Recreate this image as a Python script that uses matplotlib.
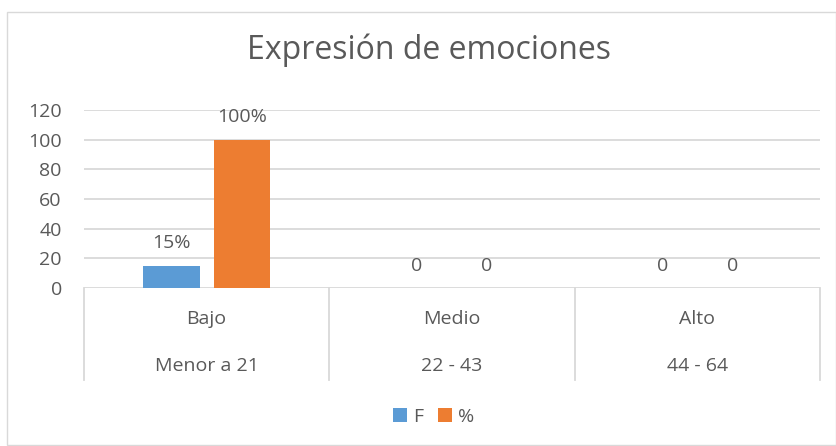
import matplotlib
matplotlib.use("Agg")
import matplotlib.pyplot as plt
from matplotlib.patches import Rectangle
import numpy as np

title = "Expresión de emociones"
levels = ["Bajo", "Medio", "Alto"]
ranges = ["Menor a 21", "22 - 43", "44 - 64"]
f_values = [15, 0, 0]
pct_values = [100, 0, 0]
f_labels = ["15%", "0", "0"]
pct_labels = ["100%", "0", "0"]
yticks = [0, 20, 40, 60, 80, 100, 120]

plt.rcParams['font.family'] = ['Open Sans', 'DejaVu Sans']
txt = '#595959'
grid = '#d9d9d9'
blue = '#5b9bd5'
orange = '#ed7d31'
fs = 14

fig = plt.figure(figsize=(8.37, 4.46), dpi=100)
fig.patches.append(Rectangle((7/837, 1/446), 829/837, 433/446, transform=fig.transFigure,
                             fill=False, edgecolor=grid, linewidth=1))
ax = fig.add_axes([84/837, 1-288/446, (820-84)/837, 178/446])

x = np.arange(len(levels))
w = 0.229
off = 0.143
b1 = ax.bar(x - off, f_values, w, color=blue, label='F', zorder=3)
b2 = ax.bar(x + off, pct_values, w, color=orange, label='%', zorder=3)
for bars, labs in ((b1, f_labels), (b2, pct_labels)):
    for r, lab in zip(bars, labs):
        ax.annotate(lab, (r.get_x() + r.get_width()/2, r.get_height()), xytext=(0, 12.5),
                    textcoords='offset points', ha='center', va='baseline', fontsize=fs, color=txt)

ax.set_xlim(-0.5, len(levels) - 0.5)
ax.set_ylim(0, 120)
ax.set_yticks(yticks)
ax.set_yticklabels([str(t) for t in yticks], fontsize=fs, color=txt)
ax.tick_params(axis='y', length=0, pad=16)
ax.set_xticks([])
for s in ax.spines.values():
    s.set_visible(False)
for t in yticks:
    ax.axhline(t, color=grid, linewidth=1.3, zorder=1)

trans = ax.get_xaxis_transform()
for b in np.arange(len(levels) + 1) - 0.5:
    ax.plot([b, b], [0, -0.517], color=grid, linewidth=1.3, transform=trans, clip_on=False)
for i, (lv, rg) in enumerate(zip(levels, ranges)):
    ax.text(i, -0.174, lv, transform=trans, ha='center', va='center', fontsize=fs, color=txt)
    ax.text(i, -0.438, rg, transform=trans, ha='center', va='center', fontsize=fs, color=txt)

fig.text(0.513, 1-50/446, title, ha='center', va='center', fontsize=23, color=txt)

leg = fig.legend(handles=[b1, b2], labels=['F', '%'], loc='center', bbox_to_anchor=(0.518, 1-417/446),
                 ncol=2, frameon=False, fontsize=fs, handlelength=0.7, handleheight=0.7,
                 handletextpad=0.3, columnspacing=0.8)
for t in leg.get_texts():
    t.set_color(txt)

fig.savefig('out.png', dpi=100)
